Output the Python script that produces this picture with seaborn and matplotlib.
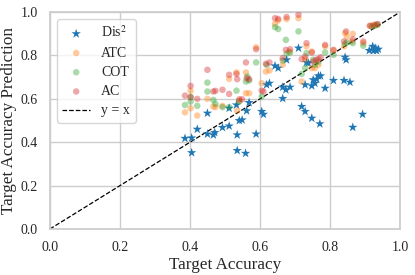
import numpy as np
import pandas as pd
import matplotlib
matplotlib.use("Agg")
import matplotlib.pyplot as plt
import seaborn as sns

# Dis^2 (stars)
dis_x = [0.386, 0.405, 0.405, 0.421, 0.45, 0.45, 0.467, 0.471, 0.493, 0.512, 0.512, 0.533, 0.535, 0.535,
         0.541, 0.549, 0.559, 0.562, 0.569, 0.589, 0.605, 0.61, 0.619, 0.627, 0.643, 0.652, 0.665, 0.665,
         0.674, 0.676, 0.686, 0.71, 0.719, 0.729, 0.729, 0.733, 0.738, 0.748, 0.748, 0.752, 0.757, 0.762,
         0.767, 0.771, 0.773, 0.786, 0.81, 0.84, 0.843, 0.846, 0.857, 0.865, 0.893, 0.912, 0.922, 0.929,
         0.933, 0.938, 0.929, 0.924]
dis_y = [0.418, 0.42, 0.352, 0.46, 0.534, 0.438, 0.434, 0.445, 0.468, 0.475, 0.557, 0.572, 0.434, 0.362,
         0.5, 0.503, 0.349, 0.545, 0.583, 0.438, 0.542, 0.529, 0.665, 0.672, 0.752, 0.742, 0.602, 0.654,
         0.642, 0.78, 0.654, 0.834, 0.565, 0.542, 0.665, 0.768, 0.765, 0.511, 0.66, 0.688, 0.672, 0.691,
         0.706, 0.485, 0.706, 0.649, 0.685, 0.685, 0.792, 0.78, 0.677, 0.469, 0.529, 0.823, 0.842, 0.834,
         0.823, 0.829, 0.826, 0.823]

# ATC
atc_x = [0.386, 0.402, 0.402, 0.421, 0.45, 0.467, 0.473, 0.493, 0.512, 0.533, 0.535, 0.541, 0.56, 0.56,
         0.569, 0.589, 0.605, 0.617, 0.627, 0.643, 0.652, 0.665, 0.676, 0.684, 0.71, 0.719, 0.729, 0.733,
         0.748, 0.748, 0.757, 0.767, 0.786, 0.81, 0.84, 0.843, 0.848, 0.862, 0.865, 0.895, 0.914, 0.924,
         0.933]
atc_y = [0.538, 0.557, 0.637, 0.523, 0.6, 0.565, 0.562, 0.568, 0.692, 0.722, 0.546, 0.592, 0.626, 0.722,
         0.626, 0.838, 0.672, 0.726, 0.731, 0.946, 0.962, 0.757, 0.968, 0.818, 0.972, 0.68, 0.783, 0.842,
         0.818, 0.742, 0.742, 0.757, 0.842, 0.823, 0.842, 0.903, 0.888, 0.865, 0.9, 0.857, 0.937, 0.937,
         0.942]

# COT
cot_x = [0.386, 0.402, 0.402, 0.421, 0.45, 0.45, 0.467, 0.473, 0.493, 0.512, 0.533, 0.541, 0.56, 0.564,
         0.569, 0.589, 0.605, 0.619, 0.643, 0.652, 0.665, 0.674, 0.676, 0.686, 0.71, 0.719, 0.729, 0.733,
         0.752, 0.757, 0.767, 0.786, 0.81, 0.843, 0.848, 0.865, 0.895, 0.919, 0.929, 0.936]
cot_y = [0.572, 0.588, 0.608, 0.568, 0.675, 0.634, 0.595, 0.577, 0.562, 0.562, 0.638, 0.588, 0.68, 0.703,
         0.685, 0.768, 0.611, 0.757, 0.931, 0.922, 0.777, 0.872, 0.808, 0.814, 0.911, 0.715, 0.742, 0.811,
         0.78, 0.757, 0.772, 0.814, 0.803, 0.854, 0.86, 0.857, 0.845, 0.934, 0.937, 0.942]

# AC
ac_x = [0.386, 0.402, 0.402, 0.421, 0.45, 0.467, 0.473, 0.493, 0.512, 0.512, 0.533, 0.535, 0.541, 0.549,
        0.56, 0.562, 0.569, 0.589, 0.605, 0.61, 0.617, 0.627, 0.643, 0.652, 0.665, 0.674, 0.676, 0.686,
        0.71, 0.719, 0.729, 0.733, 0.748, 0.752, 0.76, 0.767, 0.773, 0.786, 0.81, 0.84, 0.846, 0.865,
        0.895, 0.914, 0.926, 0.936]
ac_y = [0.615, 0.66, 0.608, 0.6, 0.734, 0.634, 0.637, 0.642, 0.711, 0.623, 0.715, 0.691, 0.598, 0.598,
        0.768, 0.695, 0.691, 0.829, 0.638, 0.634, 0.762, 0.768, 0.972, 0.969, 0.788, 0.826, 0.977, 0.829,
        0.988, 0.783, 0.795, 0.857, 0.814, 0.772, 0.78, 0.783, 0.792, 0.849, 0.826, 0.865, 0.911, 0.875,
        0.865, 0.937, 0.942, 0.945]

ticks = [0.0, 0.2, 0.4, 0.6, 0.8, 1.0]

sns.set_theme(style="whitegrid")
plt.rcParams['font.family'] = ['Liberation Serif', 'DejaVu Serif']
plt.rcParams['mathtext.fontset'] = 'stix'

pal = sns.color_palette("tab10")

fig = plt.figure(figsize=(4.15, 2.75), dpi=100)
ax = fig.add_axes([0.12, 0.167, 0.844, 0.789])

sns.scatterplot(ax=ax, x=dis_x, y=dis_y, marker="*", s=50, color=pal[0], edgecolor="none",
                label="Dis$^2$", zorder=3)
sns.scatterplot(ax=ax, x=atc_x, y=atc_y, s=22, color=pal[1], alpha=0.4, edgecolor="none",
                label="ATC", zorder=3)
sns.scatterplot(ax=ax, x=cot_x, y=cot_y, s=22, color=pal[2], alpha=0.4, edgecolor="none",
                label="COT", zorder=3)
sns.scatterplot(ax=ax, x=ac_x, y=ac_y, s=22, color=pal[3], alpha=0.4, edgecolor="none",
                label="AC", zorder=3)
ax.plot([0, 1], [0, 1], ls="--", color="black", lw=0.9, label="y = x", zorder=2)

ax.set_xlim(0, 1)
ax.set_ylim(0, 1)
ax.set_xticks(ticks)
ax.set_yticks(ticks)
ax.tick_params(labelsize=10, pad=2.5)
ax.set_xlabel("Target Accuracy", fontsize=12.3, labelpad=2)
ax.set_ylabel("Target Accuracy Prediction", fontsize=12.3, labelpad=3)
ax.legend(loc="upper left", fontsize=10, frameon=True, labelspacing=0.45)

fig.savefig("out.png", dpi=100)
